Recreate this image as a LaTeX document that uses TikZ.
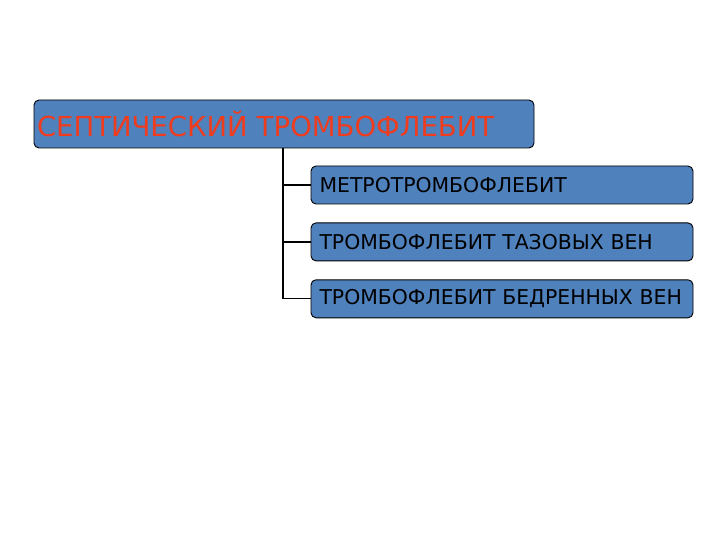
\documentclass[tikz,border=0pt]{standalone}
\usepackage{fontspec}
\setmainfont{DejaVu Sans}
\usetikzlibrary{positioning}
\definecolor{boxblue}{HTML}{4F81BD}
\definecolor{headred}{HTML}{F03C1E}

\begin{document}
\begin{tikzpicture}[x=1pt,y=-1pt,node distance=18pt,
    hbox/.style={draw=black,line width=0.9pt,fill=boxblue,rounded corners=5pt,
        minimum width=500pt,minimum height=48pt,inner sep=2pt,
        text width=494pt,align=left,font=\fontsize{27.5}{30}\selectfont,text=headred},
    cbox/.style={draw=black,line width=0.9pt,fill=boxblue,rounded corners=5pt,
        minimum width=382pt,minimum height=38pt,inner xsep=8pt,inner ysep=2pt,
        text width=365pt,align=left,font=\fontsize{20.4}{23}\selectfont,text=black}]

            \useasboundingbox (0,0) rectangle (720,540);

            \node[hbox] (sept) at (284,124) {СЕПТИЧЕСКИЙ ТРОМБОФЛЕБИТ};

            \node[cbox] (metro) at (502,185) {МЕТРОТРОМБОФЛЕБИТ};

            \node[cbox] (taz) [below=of metro] {ТРОМБОФЛЕБИТ ТАЗОВЫХ ВЕН};

            \node[cbox] (bedr) [below=of taz] {ТРОМБОФЛЕБИТ БЕДРЕННЫХ ВЕН};

            

            \coordinate (trunk) at (283,0);

            \draw[line width=1.2pt] (sept.south -| trunk) -- (bedr.west -| trunk) -- (bedr.west);

            \draw[line width=1.2pt] (metro.west -| trunk) -- (metro.west)

                                    (taz.west -| trunk) -- (taz.west);

        \end{tikzpicture}
\end{document}
